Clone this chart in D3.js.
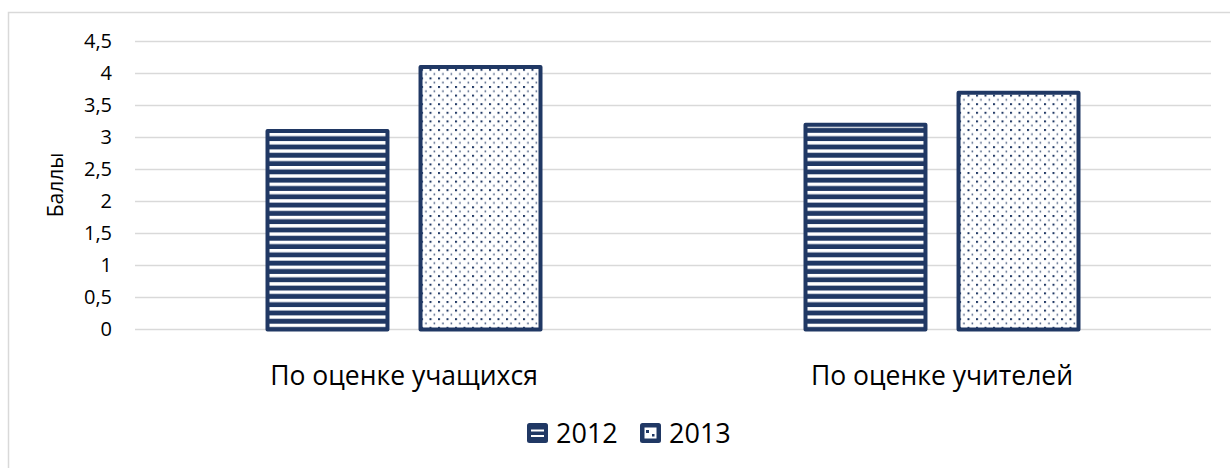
<!DOCTYPE html>
<html>
<head>
<meta charset="utf-8">
<script src="https://cdn.jsdelivr.net/npm/d3@7"></script>
<style>
  html, body { margin: 0; padding: 0; background: #ffffff; }
  svg { display: block; font-family: "Open Sans", "Noto Sans", sans-serif; }
</style>
</head>
<body>
<svg id="chart" width="1230" height="468"></svg>
<script>
// Scores by category and year
const categories = ["По оценке учащихся", "По оценке учителей"];
const seriesNames = ["2012", "2013"];
const values2012 = [3.1, 3.2];
const values2013 = [4.1, 3.7];
const yTicks = [0, 0.5, 1, 1.5, 2, 2.5, 3, 3.5, 4, 4.5];
const yTickLabels = ["0", "0,5", "1", "1,5", "2", "2,5", "3", "3,5", "4", "4,5"];
const yTitle = "Баллы";

const navy = "#203864";
const gridColor = "#d9d9d9";

const svg = d3.select("#chart");

// Patterns: wide horizontal stripes for 2012, sparse dots for 2013
const defs = svg.append("defs");
const stripes = defs.append("pattern")
  .attr("id", "pat-stripes")
  .attr("patternUnits", "userSpaceOnUse")
  .attr("width", 8).attr("height", 8.3);
stripes.append("rect").attr("width", 8).attr("height", 8.3).attr("fill", "#ffffff");
stripes.append("rect").attr("y", 3.4).attr("width", 8).attr("height", 4.9).attr("fill", navy);

const dots = defs.append("pattern")
  .attr("id", "pat-dots")
  .attr("patternUnits", "userSpaceOnUse")
  .attr("width", 8.5).attr("height", 8.6);
dots.append("rect").attr("width", 8.5).attr("height", 8.6).attr("fill", "#ffffff");
dots.append("rect").attr("x", 0).attr("y", 0).attr("width", 2).attr("height", 2).attr("fill", navy);
dots.append("rect").attr("x", 4.25).attr("y", 4.3).attr("width", 1.4).attr("height", 1.8).attr("fill", navy).attr("opacity", 0.85);

const patterns = ["url(#pat-stripes)", "url(#pat-dots)"];

// Chart frame
svg.append("rect")
  .attr("x", 8.5).attr("y", 12.5)
  .attr("width", 1240).attr("height", 480)
  .attr("fill", "none")
  .attr("stroke", gridColor)
  .attr("stroke-width", 1.5);

// Scales
const plotLeft = 135, plotRight = 1211;
const y = d3.scaleLinear().domain([0, 4.5]).range([329.5, 41.5]);
const x0 = d3.scaleBand().domain(categories).range([plotLeft, plotRight]).padding(0);
const pairWidth = 273;
const x1 = d3.scaleBand().domain(seriesNames).range([-pairWidth / 2, pairWidth / 2]).paddingInner(0.216).paddingOuter(0);

// Gridlines
svg.append("g")
  .selectAll("line")
  .data(yTicks)
  .join("line")
  .attr("x1", plotLeft).attr("x2", plotRight)
  .attr("y1", d => y(d)).attr("y2", d => y(d))
  .attr("stroke", gridColor)
  .attr("stroke-width", 1.5);

// Y axis labels
const yAxis = d3.axisLeft(y)
  .tickValues(yTicks)
  .tickFormat((d, i) => yTickLabels[i])
  .tickSize(0)
  .tickPadding(0);
const yAxisG = svg.append("g")
  .attr("transform", "translate(112,0)")
  .call(yAxis);
yAxisG.select(".domain").remove();
yAxisG.selectAll("text")
  .attr("font-family", "'Open Sans', sans-serif")
  .attr("font-size", 20)
  .attr("fill", "#000000");

// Y axis title
svg.append("text")
  .attr("transform", "translate(63,185) rotate(-90)")
  .attr("text-anchor", "middle")
  .attr("font-size", 21)
  .attr("fill", "#000000")
  .text(yTitle);

// Bars
const rows = categories.map((c, i) => ({ category: c, values: [values2012[i], values2013[i]] }));
const groups = svg.append("g")
  .selectAll("g")
  .data(rows)
  .join("g")
  .attr("transform", d => `translate(${x0(d.category) + x0.bandwidth() / 2},0)`);

groups.selectAll("rect")
  .data(d => d.values.map((v, j) => ({ key: seriesNames[j], value: v, j })))
  .join("rect")
  .attr("x", d => x1(d.key))
  .attr("width", x1.bandwidth())
  .attr("y", d => y(d.value))
  .attr("height", d => y(0) - y(d.value))
  .attr("fill", d => patterns[d.j])
  .attr("stroke", navy)
  .attr("stroke-width", 4)
  .attr("stroke-linejoin", "round");

// Category labels
const xAxis = d3.axisBottom(x0).tickSize(0).tickPadding(0);
const xAxisG = svg.append("g")
  .attr("transform", "translate(0,366)")
  .call(xAxis);
xAxisG.select(".domain").remove();
xAxisG.selectAll("text")
  .attr("font-family", "'Open Sans', sans-serif")
  .attr("font-size", 26.5)
  .attr("fill", "#000000")
  .attr("dy", "0.71em");

// Legend
const legendItems = [
  { name: seriesNames[0], x: 527 },
  { name: seriesNames[1], x: 640 }
];
const legend = svg.append("g");
const li = legend.selectAll("g")
  .data(legendItems)
  .join("g")
  .attr("transform", d => `translate(${d.x},423)`);
li.append("rect")
  .attr("width", 21).attr("height", 20)
  .attr("rx", 2.5)
  .attr("fill", navy);
// 2012 swatch: two white stripes
li.filter((d, i) => i === 0).selectAll("line")
  .data([7.5, 13])
  .join("line")
  .attr("x1", 4).attr("x2", 17)
  .attr("y1", d => d).attr("y2", d => d)
  .attr("stroke", "#ffffff")
  .attr("stroke-width", 2);
// 2013 swatch: white window with navy dots
const sw13 = li.filter((d, i) => i === 1);
sw13.append("rect")
  .attr("x", 4.5).attr("y", 4.5).attr("width", 12).attr("height", 11)
  .attr("fill", "#ffffff");
sw13.append("rect").attr("x", 6).attr("y", 7).attr("width", 3).attr("height", 3).attr("fill", navy);
sw13.append("rect").attr("x", 12).attr("y", 11).attr("width", 2.5).attr("height", 2.5).attr("fill", navy);
li.append("text")
  .attr("x", 29)
  .attr("y", 20)
  .attr("font-size", 27)
  .attr("fill", "#000000")
  .text(d => d.name);
</script>
</body>
</html>
